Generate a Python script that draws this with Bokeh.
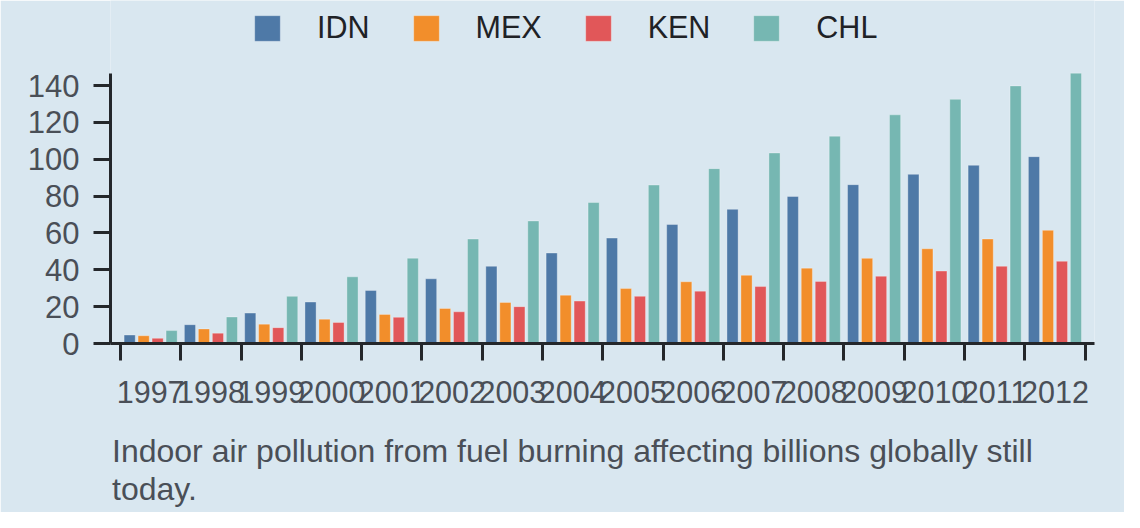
from bokeh.plotting import figure
from bokeh.models import (Range1d, FixedTicker, Legend, LegendItem, ColumnDataSource,
                          Title, LinearAxis)
from bokeh.transform import dodge
from bokeh.embed import file_html
from bokeh.resources import INLINE

years = ["1997", "1998", "1999", "2000", "2001", "2002", "2003", "2004",
         "2005", "2006", "2007", "2008", "2009", "2010", "2011", "2012"]
idn = [4.6, 10.2, 16.5, 22.5, 28.8, 35.1, 41.9, 49.1, 57.2, 64.6, 72.8, 79.8, 86.2, 91.8, 96.7, 101.4]
mex = [4.2, 7.9, 10.5, 13.2, 15.8, 19.0, 22.3, 26.2, 29.8, 33.5, 37.0, 40.9, 46.2, 51.4, 56.7, 61.4]
ken = [2.8, 5.6, 8.6, 11.4, 14.2, 17.2, 20.0, 23.0, 25.6, 28.4, 30.9, 33.7, 36.5, 39.3, 41.9, 44.6]
chl = [7.0, 14.4, 25.6, 36.2, 46.3, 56.7, 66.5, 76.5, 86.0, 94.9, 103.4, 112.5, 124.1, 132.5, 139.8, 146.7]
series = ["IDN", "MEX", "KEN", "CHL"]
colors = ["#4e79a7", "#f28e2b", "#e15759", "#76b7b2"]
y_ticks = [0, 20, 40, 60, 80, 100, 120, 140]
caption = ["Indoor air pollution from fuel burning affecting billions globally still", "today."]

BG = "#d9e7f0"
AX = "#24272b"
TXT = "#4a4f57"
FONT = "Liberation Sans"

centers = [i + 0.5 for i in range(len(years))]
src = ColumnDataSource(dict(x=centers, year=years, IDN=idn, MEX=mex, KEN=ken, CHL=chl))

ymax = max(chl)
FRAME_TOP_PAD = 186.15 / 146.7  # frame extends above the axis to hold the legend

p = figure(width=1124, height=512, output_backend="svg", toolbar_location=None,
           x_range=Range1d(-0.166, len(years) + 0.156), y_range=Range1d(0, ymax * FRAME_TOP_PAD),
           min_border_left=110, min_border_right=30, min_border_top=0, min_border_bottom=169,
           x_axis_location=None, y_axis_location=None)
p.background_fill_color = BG
p.border_fill_color = BG
p.outline_line_color = None
p.grid.visible = False

offsets = [-0.348, -0.116, 0.116, 0.348]
renderers = []
for s, c, off in zip(series, colors, offsets):
    r = p.vbar(x=dodge("x", off, range=p.x_range), top=s, width=0.185, bottom=0, source=src,
               fill_color=c, line_color="white", line_alpha=0.3, line_width=1)
    renderers.append(r)

# y axis
ya = LinearAxis(ticker=FixedTicker(ticks=y_ticks, minor_ticks=[]), bounds=(0, ymax))
ya.axis_line_color = AX
ya.axis_line_width = 3
ya.major_tick_line_color = AX
ya.major_tick_line_width = 3
ya.major_tick_out = 17
ya.major_tick_in = 0
ya.minor_tick_line_color = None
ya.major_label_text_font = FONT
ya.major_label_text_font_size = "31px"
ya.major_label_text_color = TXT
ya.major_label_standoff = 14
p.add_layout(ya, "left")

# x axis: ticks at boundaries, labels at centres
xa = LinearAxis(ticker=FixedTicker(ticks=centers, minor_ticks=list(range(len(years) + 1))))
xa.major_label_overrides = {c: y for c, y in zip(centers, years)}
xa.axis_line_color = AX
xa.axis_line_width = 3
xa.major_tick_line_color = None
xa.major_tick_out = 17
xa.major_tick_in = 0
xa.minor_tick_line_color = AX
xa.minor_tick_line_width = 3
xa.minor_tick_out = 17
xa.minor_tick_in = 0
xa.major_label_text_font = FONT
xa.major_label_text_font_size = "30.5px"
xa.major_label_text_color = TXT
xa.major_label_standoff = 20
p.add_layout(xa, "below")

legend = Legend(items=[LegendItem(label=s, renderers=[r]) for s, r in zip(series, renderers)],
                orientation="horizontal", location=(141, 298), padding=0, margin=0,
                spacing=40, label_standoff=34, glyph_width=32, glyph_height=32,
                background_fill_alpha=0, border_line_color=None,
                label_text_font=FONT, label_text_font_size="30.5px", label_text_color="#1f2226")
p.add_layout(legend, "center")

# spacer between the axis labels and the caption
p.add_layout(Title(text=" ", standoff=22, text_font_size="1px"), "below")
for line in caption:
    p.add_layout(Title(text=line, align="left", offset=1.5, standoff=0,
                       text_font=FONT, text_font_size="32px", text_font_style="normal",
                       text_color=TXT), "below")

open("out.html", "w").write(file_html(p, INLINE))
